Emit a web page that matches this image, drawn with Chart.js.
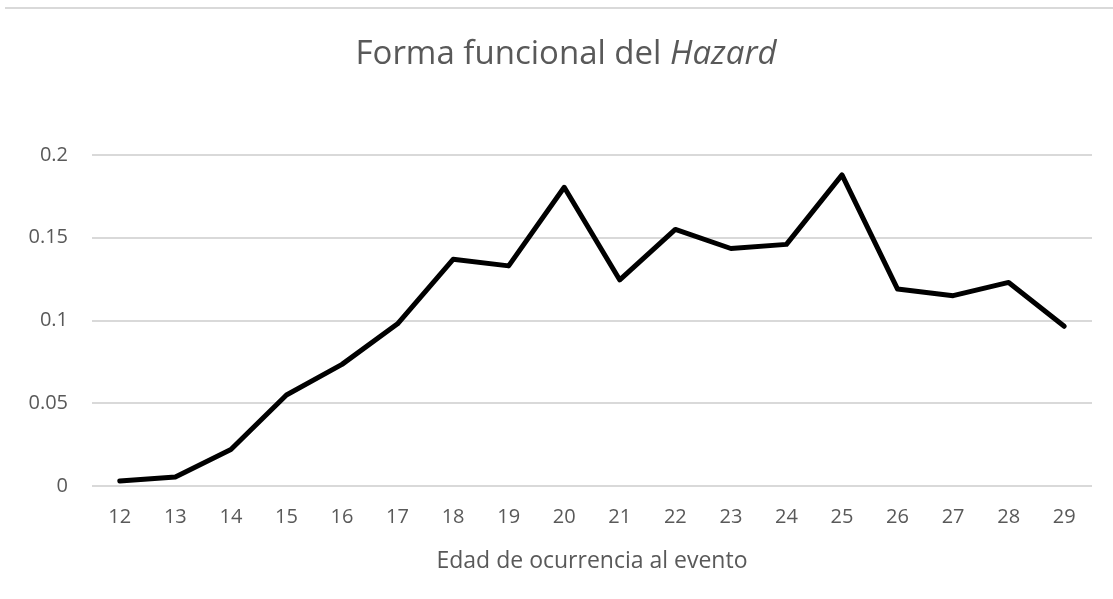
<!DOCTYPE html>
<html>
<head>
<meta charset="utf-8">
<title>Forma funcional del Hazard</title>
<script src="https://cdn.jsdelivr.net/npm/chart.js@4"></script>
<style>
    html, body { margin: 0; padding: 0; background: #fff; }
    .wrap { position: relative; width: 1113px; height: 599px; }
    .rule { position: absolute; left: 5px; right: 0; top: 7px; height: 2px; background: #d9d9d9; }
</style>
</head>
<body>
<div class="wrap">
    <div class="rule"></div>
    <canvas id="hazard" width="1113" height="599"></canvas>
</div>
<script>
const edades = ['12', '13', '14', '15', '16', '17', '18', '19', '20', '21', '22', '23', '24', '25', '26', '27', '28', '29'];
const hazard = [0.003, 0.0055, 0.022, 0.055, 0.0735, 0.098, 0.137, 0.133, 0.1805, 0.1245, 0.155, 0.1435, 0.146, 0.188, 0.119, 0.115, 0.123, 0.0965];
const yTicks = [0, 0.05, 0.1, 0.15, 0.2];

const GRAY = '#595959';
const FONT = "'Open Sans', sans-serif";

// title with the italic word, drawn straight on the canvas
const titlePlugin = {
    id: 'hazardTitle',
    afterDraw(chart) {
        const ctx = chart.ctx;
        const plain = 'Forma funcional del ';
        const italic = 'Hazard';
        ctx.save();
        ctx.fillStyle = GRAY;
        ctx.textBaseline = 'alphabetic';
        ctx.font = "33px " + FONT;
        const w1 = ctx.measureText(plain).width;
        ctx.font = "italic 33px " + FONT;
        const w2 = ctx.measureText(italic).width;
        const x0 = 566 - (w1 + w2) / 2;
        ctx.font = "33px " + FONT;
        ctx.fillText(plain, x0, 64);
        ctx.font = "italic 33px " + FONT;
        ctx.fillText(italic, x0 + w1, 64);
        ctx.restore();
    }
};

const ctx = document.getElementById('hazard').getContext('2d');
new Chart(ctx, {
    type: 'line',
    data: {
        labels: edades,
        datasets: [{
            data: hazard,
            borderColor: '#000',
            borderWidth: 5,
            borderJoinStyle: 'round',
            borderCapStyle: 'round',
            pointRadius: 0,
            tension: 0,
            fill: false
        }]
    },
    options: {
        responsive: false,
        animation: false,
        layout: { padding: { left: 0, right: 21, top: 155, bottom: 20 } },
        plugins: {
            legend: { display: false },
            tooltip: { enabled: false }
        },
        scales: {
            x: {
                offset: true,
                grid: { display: false, drawTicks: false },
                border: { display: false },
                ticks: { color: GRAY, font: { family: FONT, size: 20 }, padding: 19, maxRotation: 0 },
                title: {
                    display: true,
                    text: 'Edad de ocurrencia al evento',
                    color: GRAY,
                    font: { family: FONT, size: 23 },
                    padding: { top: 8 }
                },
                afterFit(scale) { scale.height = 93; }
            },
            y: {
                min: 0,
                max: 0.2,
                afterBuildTicks(scale) { scale.ticks = yTicks.map(v => ({ value: v })); },
                grid: { color: '#d9d9d9', lineWidth: 2, drawTicks: false },
                border: { display: false },
                ticks: {
                    color: GRAY,
                    font: { family: FONT, size: 20 },
                    padding: 24,
                    callback: v => String(v)
                },
                afterFit(scale) { scale.width = 92; }
            }
        }
    },
    plugins: [titlePlugin]
});
</script>
</body>
</html>
